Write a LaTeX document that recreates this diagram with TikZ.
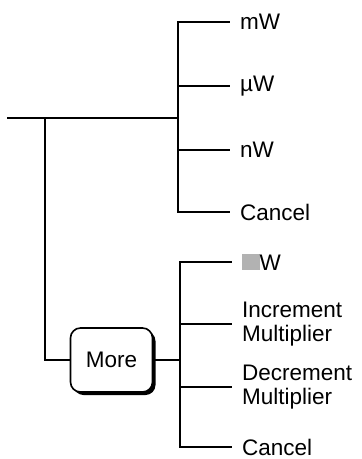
\documentclass[tikz,border=0pt]{standalone}
\usepackage{fontspec}
\setmainfont{Liberation Sans}
\usetikzlibrary{shadows}
\tikzset{
  wire/.style={line width=1.8pt, line cap=rect},
  lbl/.style={anchor=west, inner xsep=11pt, inner ysep=0pt, align=left, font=\fontsize{22.5}{23.5}\selectfont},
  morebox/.style={draw, line width=1.6pt, rounded corners=10pt, fill=white, minimum width=82pt, minimum height=64pt, inner sep=0pt, font=\fontsize{22.5}{23.5}\selectfont,
    drop shadow={shadow xshift=3pt, shadow yshift=-3pt, fill=black, opacity=1}}
}
\begin{document}
\begin{tikzpicture}[x=1pt,y=-1pt]
\useasboundingbox (0,0) rectangle (362,459);
% junctions
\coordinate (start) at (8,118);
\coordinate (j2) at (45,118);
\coordinate (j1) at (178,118);
\coordinate (j3) at (180,360);
% first menu
\node[lbl] (mw) at (229,22) {mW};
\node[lbl] (uw) at (229,86) {µW};
\node[lbl] (nw) at (229,150) {nW};
\node[lbl] (c1) at (229,212) {Cancel};
% second menu
\node[morebox] (more) at (111.5,360) {More};
\node[lbl] (w) at (231,262) {{\color{black!30}\rule{0.78em}{0.74em}}W};
\node[lbl] (inc) at (231,324) {Increment\\Multiplier};
\node[lbl] (dec) at (231,387) {Decrement\\Multiplier};
\node[lbl] (c2) at (231,447) {Cancel};
% connectors
\draw[wire] (start) -- (j1);
\draw[wire] (mw.west) -| (j1) |- (c1.west);
\draw[wire] (uw.west) -- (uw.west -| j1);
\draw[wire] (nw.west) -- (nw.west -| j1);
\draw[wire] (j2) |- (more.west);
\draw[wire] (more.east) -- (j3);
\draw[wire] (w.west) -| (j3) |- (c2.west);
\draw[wire] (inc.west) -- (inc.west -| j3);
\draw[wire] (dec.west) -- (dec.west -| j3);
\end{tikzpicture}
\end{document}
